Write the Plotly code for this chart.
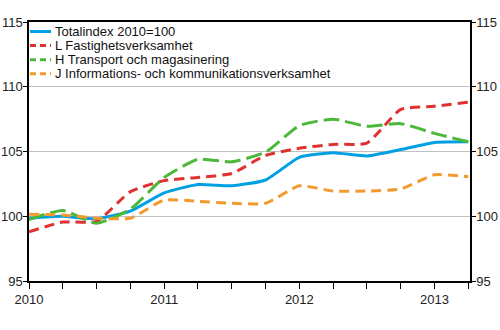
import plotly.graph_objects as go

# Quarterly index, 2010 Q1 .. 2013 Q2 (2010=100)
quarters = list(range(14))
year_ticks = [0, 4, 8, 12]
year_labels = ["2010", "2011", "2012", "2013"]

total = [99.85, 100.0, 99.8, 100.4, 101.8, 102.45, 102.35, 102.8, 104.55, 104.9, 104.65, 105.15, 105.7, 105.75]
fastighet = [98.8, 99.55, 99.6, 101.9, 102.75, 103.0, 103.3, 104.7, 105.25, 105.55, 105.65, 108.25, 108.5, 108.8]
transport = [99.75, 100.45, 99.45, 100.55, 103.0, 104.4, 104.2, 104.95, 107.0, 107.5, 106.95, 107.15, 106.4, 105.75]
information = [100.15, 100.1, 99.85, 99.85, 101.25, 101.15, 101.0, 101.0, 102.35, 101.95, 101.95, 102.1, 103.2, 103.05]

series = [
    ("Totalindex 2010=100", total, "#00a0e3", "solid"),
    ("L Fastighetsverksamhet", fastighet, "#e03131", "10px,6px"),
    ("H Transport och magasinering", transport, "#4cb83a", "16px,6px"),
    ("J Informations- och kommunikationsverksamhet", information, "#f39a2e", "10px,6px"),
]

W, H = 500, 330
L, R, T, B = 29, 30, 22, 49
plot_w, plot_h = W - L - R, H - T - B


def px(x):
    return (x - L) / plot_w


def py(y):
    return (H - B - y) / plot_h


fig = go.Figure()
for name, vals, color, dash in series:
    fig.add_trace(go.Scatter(
        x=quarters, y=vals, name=name, mode="lines",
        line=dict(color=color, width=3, dash=dash, shape="spline", smoothing=0.5),
        showlegend=False,
    ))

# invisible trace to keep the right-hand axis drawn
fig.add_trace(go.Scatter(x=[0], y=[100], yaxis="y2", mode="none",
                         showlegend=False, hoverinfo="skip"))

# compact legend in the upper-left corner
for i, (name, vals, color, dash) in enumerate(series):
    yy = 31.5 + i * 14.1
    fig.add_shape(type="line", xref="paper", yref="paper",
                  x0=px(30), x1=px(51), y0=py(yy), y1=py(yy),
                  line=dict(color=color, width=3, dash=dash if dash == "solid" else "6px,4px"))
    fig.add_annotation(xref="paper", yref="paper", x=px(52.5), y=py(yy),
                       text=name, showarrow=False, xanchor="left", yanchor="middle",
                       font=dict(size=13, color="#111111"))

font = dict(family="Liberation Sans, Arial, sans-serif", size=13, color="#222222")
yticks = [95, 100, 105, 110, 115]

fig.update_layout(
    width=W, height=H,
    margin=dict(l=L, r=R, t=T, b=B),
    paper_bgcolor="white", plot_bgcolor="white",
    font=font,
    showlegend=False,
    xaxis=dict(
        range=[0, 13.05], tickmode="array", tickvals=quarters,
        ticktext=[year_labels[year_ticks.index(q)] if q in year_ticks else "" for q in quarters],
        ticks="outside", ticklen=6, tickcolor="black", tickwidth=1,
        showline=True, linecolor="black", linewidth=1.5, mirror=True,
        showgrid=False, zeroline=False, automargin=False,
        tickfont=dict(size=13),
    ),
    yaxis=dict(
        range=[95, 115], tickvals=yticks,
        ticks="outside", ticklen=4, tickcolor="black",
        showline=True, linecolor="black", linewidth=1.5,
        showgrid=True, gridcolor="#c0c0c0", gridwidth=1, zeroline=False,
        automargin=False, tickfont=dict(size=13), ticklabelstandoff=-2,
    ),
    yaxis2=dict(
        range=[95, 115], tickvals=yticks,
        overlaying="y", side="right", anchor="x",
        ticks="outside", ticklen=4, tickcolor="black",
        showline=True, linecolor="black", linewidth=1.5,
        showgrid=False, zeroline=False, automargin=False,
        tickfont=dict(size=13), ticklabelstandoff=-2,
    ),
)

fig.write_html("out.html")
